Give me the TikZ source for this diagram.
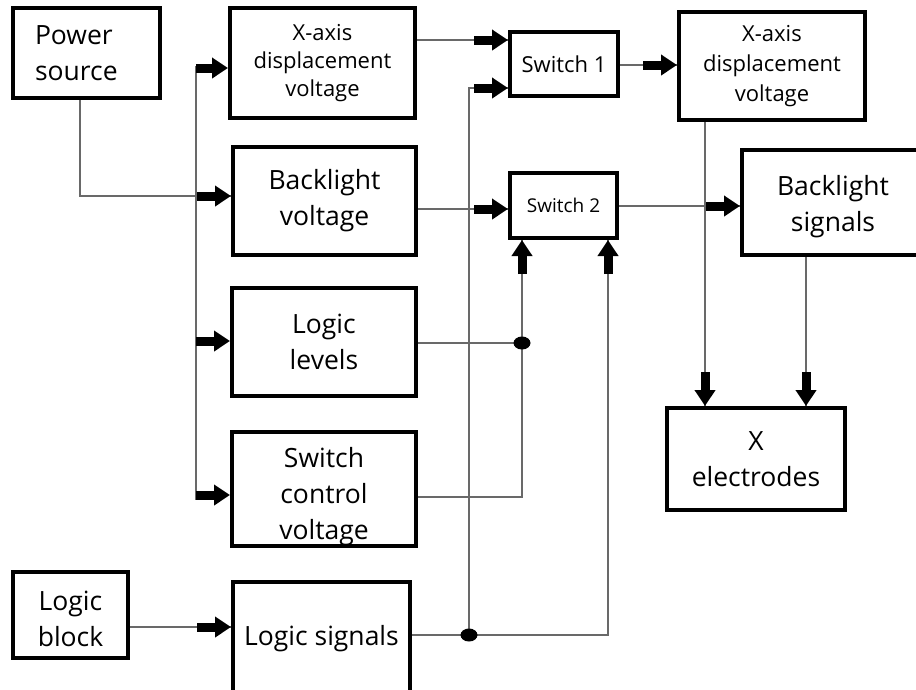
\documentclass[tikz,border=0pt]{standalone}
\usepackage{fontspec}
\setmainfont{Open Sans}
\usetikzlibrary{arrows.meta,calc,shapes.geometric}
\definecolor{wirec}{RGB}{105,105,105}
\begin{document}
\begin{tikzpicture}[x=1pt,y=-1pt,
  box/.style={draw=black,line width=4pt,rectangle,inner sep=0pt,align=center,font=\fontsize{26.5}{36}\selectfont},
  smallbox/.style={box,font=\fontsize{22}{28}\selectfont},
  wire/.style={draw=wirec,line width=1.8pt},
  blk/.style={draw=black,line width=9pt,-{Triangle[length=16pt,width=20pt]}},
  dot/.style={ellipse,fill=black,minimum width=17pt,minimum height=13pt,inner sep=0pt}]
\useasboundingbox (0,0) rectangle (916,689);

% boxes
\node[box,minimum width=147pt,minimum height=90pt,text width=103pt,align=left] (pwr) at (86.5,53) {Power\\source};
\node[smallbox,minimum width=185pt,minimum height=110pt] (xl) at (322.5,63) {X-axis\\displacement\\voltage};
\node[box,minimum width=183pt,minimum height=108pt] (blv) at (324.5,201) {Backlight\\voltage};
\node[box,minimum width=184pt,minimum height=108pt] (ll) at (324,342) {Logic\\levels};
\node[box,minimum width=184pt,minimum height=112pt] (scv) at (324,489) {Switch\rule{0pt}{36pt}\\control\\voltage};
\node[box,minimum width=177pt,minimum height=113pt] (ls) at (321.5,638.5) {Logic signals};
\node[box,minimum width=115pt,minimum height=86pt] (lb) at (70.5,615) {Logic\rule{0pt}{28pt}\\block};
\node[box,minimum width=108pt,minimum height=64pt,font=\fontsize{22}{26}\selectfont] (s1) at (564,64) {Switch 1};
\node[box,minimum width=107pt,minimum height=65pt,font=\fontsize{19}{24}\selectfont] (s2) at (563.5,205.5) {Switch 2};
\node[smallbox,font=\fontsize{22}{30}\selectfont,minimum width=186pt,minimum height=108pt] (xr) at (772,66) {X-axis\\displacement\\voltage};
\node[box,minimum width=182pt,minimum height=105pt] (bs) at (833,202.5) {Backlight\rule{0pt}{28pt}\\signals};
\node[box,minimum width=178pt,minimum height=102pt] (xe) at (756,459) {X\\electrodes};

% junction coordinates
\coordinate (pj) at (80,196);
\coordinate (bt) at (196,66);
\coordinate (bb) at (196,500);
\coordinate (a1) at (196,68);
\coordinate (a3) at (196,341);
\coordinate (a4) at (196,495);
\coordinate (r1) at (450,40);
\coordinate (r2) at (640,65);
\coordinate (r3) at (450,209);
\coordinate (r4) at (680,206);
\coordinate (v1) at (705,300);
\coordinate (v2) at (806,300);
\coordinate (d1) at (522,343);
\coordinate (sc) at (522,497);
\coordinate (d2) at (469,635);
\coordinate (lr) at (608,635);
\coordinate (lt) at (469,88);
\coordinate (lbj) at (150,627);

% wires
\draw[wire] (pwr.south-|pj) -- (pj) -- (blv.west|-pj);
\draw[wire] (bt) -- (bb);
\draw[wire] (xl.east|-r1) -- (s1.west|-r1);
\draw[wire] (s1.east|-r2) -- (xr.west|-r2);
\draw[wire] (blv.east|-r3) -- (s2.west|-r3);
\draw[wire] (s2.east|-r4) -- (bs.west|-r4);
\draw[wire] (xr.south-|v1) -- (xe.north-|v1);
\draw[wire] (bs.south-|v2) -- (xe.north-|v2);
\draw[wire] (ll.east|-d1) -- (d1) -- (s2.south-|d1);
\draw[wire] (scv.east|-sc) -- (sc) -- (d1);
\draw[wire] (ls.east|-d2) -- (d2) -- (lr) -- (s2.south-|lr);
\draw[wire] (d2) -- (lt) -- (s1.west|-lt);
\draw[wire] (lb.east|-lbj) -- (ls.west|-lbj);

% junction dots
\node[dot] (dot1) at (d1) {};
\node[dot] (dot2) at (d2) {};

% block arrow heads
\draw[blk] (a1) -- (xl.west|-a1);
\draw[blk] ($(blv.west|-pj)+(-34,0)$) -- (blv.west|-pj);
\draw[blk] (a3) -- (ll.west|-a3);
\draw[blk] (a4) -- (scv.west|-a4);
\draw[blk] ($(ls.west|-lbj)+(-34,0)$) -- (ls.west|-lbj);
\draw[blk] ($(s1.west|-r1)+(-34,0)$) -- (s1.west|-r1);
\draw[blk] ($(s1.west|-lt)+(-34,0)$) -- (s1.west|-lt);
\draw[blk] ($(xr.west|-r2)+(-34,0)$) -- (xr.west|-r2);
\draw[blk] ($(s2.west|-r3)+(-34,0)$) -- (s2.west|-r3);
\draw[blk] ($(bs.west|-r4)+(-34,0)$) -- (bs.west|-r4);
\draw[blk] ($(s2.south-|d1)+(0,34)$) -- (s2.south-|d1);
\draw[blk] ($(s2.south-|lr)+(0,34)$) -- (s2.south-|lr);
\draw[blk] ($(xe.north-|v1)+(0,-34)$) -- (xe.north-|v1);
\draw[blk] ($(xe.north-|v2)+(0,-34)$) -- (xe.north-|v2);
\end{tikzpicture}
\end{document}
